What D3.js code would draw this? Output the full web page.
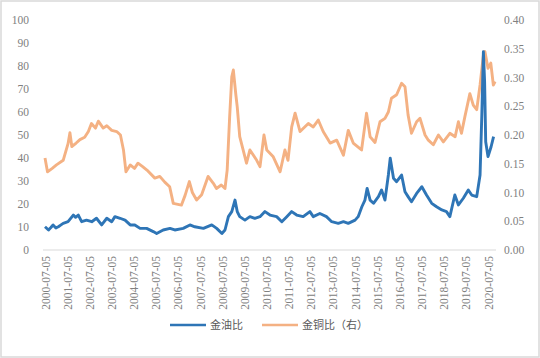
<!DOCTYPE html>
<html>
<head>
<meta charset="utf-8">
<script src="https://cdn.jsdelivr.net/npm/d3@7"></script>
<style>
	body { margin: 0; background: #fff; }
	#graph-container { width: 540px; height: 358px; }
</style>
</head>
<body>
<div id="graph-container"></div>
<script>
// 金油比 (left axis)
const goldOilDates = [
	"2000-07-05", "2000-09-01", "2000-10-10", "2000-11-15", "2001-01-01", "2001-02-10", "2001-03-20",
	"2001-05-01", "2001-07-20", "2001-10-15", "2001-11-20", "2002-01-05", "2002-03-01", "2002-05-20",
	"2002-08-15", "2002-11-01", "2003-01-25", "2003-04-20", "2003-07-10", "2003-09-01", "2003-11-25",
	"2004-02-15", "2004-05-10", "2004-07-25", "2004-10-20", "2005-02-05", "2005-05-25", "2005-07-20",
	"2005-11-05", "2006-02-25", "2006-05-15", "2006-10-01", "2007-01-20", "2007-04-10", "2007-08-30",
	"2008-01-15", "2008-04-05", "2008-06-30", "2008-08-20", "2008-10-15", "2008-12-10", "2009-02-01",
	"2009-03-10", "2009-04-20", "2009-07-15", "2009-10-05", "2009-12-25", "2010-03-20", "2010-06-10",
	"2010-09-01", "2010-12-20", "2011-03-15", "2011-06-05", "2011-08-25", "2011-11-15", "2012-03-01",
	"2012-06-20", "2012-08-15", "2012-12-01", "2013-03-20", "2013-06-15", "2013-10-01", "2013-12-25",
	"2014-03-15", "2014-07-05", "2014-08-25", "2014-10-25", "2014-12-15", "2015-01-20", "2015-03-10",
	"2015-05-05", "2015-07-25", "2015-09-15", "2015-11-10", "2016-01-05", "2016-02-05", "2016-03-30",
	"2016-05-20", "2016-08-10", "2016-10-05", "2016-11-25", "2017-01-20", "2017-04-15", "2017-07-10",
	"2017-09-25", "2017-12-20", "2018-03-10", "2018-06-05", "2018-08-20", "2018-10-15", "2019-01-05",
	"2019-03-05", "2019-05-25", "2019-08-15", "2019-10-10", "2020-01-01", "2020-02-25", "2020-03-25",
	"2020-04-20", "2020-05-10", "2020-05-28", "2020-07-05", "2020-08-25", "2020-10-05"
];
const goldOilValues = [
	10.1, 8.7, 9.8, 10.9, 9.6, 10.1, 10.8,
	11.6, 12.3, 15.2, 14.2, 15.2, 12.3, 13.0,
	12.3, 13.8, 10.9, 13.8, 12.3, 14.5, 13.8,
	13.0, 10.9, 10.9, 9.4, 9.4, 8.0, 7.2,
	8.7, 9.4, 8.7, 9.4, 10.9, 10.1, 9.4,
	10.9, 9.4, 7.2, 8.7, 14.5, 16.7, 21.7,
	16.7, 14.5, 13.0, 14.5, 13.8, 14.5, 16.7,
	15.2, 14.5, 12.3, 14.5, 16.7, 15.2, 14.5,
	16.7, 14.5, 15.9, 14.5, 12.3, 11.6, 12.3,
	11.6, 13.0, 14.5, 18.8, 21.7, 26.8, 21.7,
	20.3, 23.2, 26.1, 21.7, 32.6, 39.9, 31.2,
	29.7, 32.6, 25.3, 23.2, 21.0, 24.6, 27.5,
	23.9, 20.3, 18.8, 17.4, 16.7, 14.5, 23.9,
	19.6, 22.5, 26.1, 23.9, 23.2, 32.6, 58.7,
	86.2, 73.2, 47.1, 40.6, 44.9, 49.3
];

// 金铜比 (right axis)
const goldCopperDates = [
	"2000-07-05", "2000-08-15", "2000-11-01", "2001-01-10", "2001-05-01", "2001-07-20", "2001-08-20",
	"2001-09-20", "2001-12-01", "2002-02-01", "2002-04-20", "2002-06-20", "2002-08-10", "2002-10-15",
	"2002-12-01", "2003-02-20", "2003-04-20", "2003-07-10", "2003-10-01", "2003-12-01", "2004-01-20",
	"2004-03-01", "2004-05-10", "2004-07-20", "2004-09-15", "2004-12-01", "2005-02-10", "2005-06-20",
	"2005-09-10", "2005-12-01", "2006-02-20", "2006-04-20", "2006-09-01", "2006-11-01", "2007-01-10",
	"2007-03-01", "2007-05-10", "2007-08-01", "2007-11-15", "2008-02-10", "2008-04-01", "2008-06-20",
	"2008-08-20", "2008-09-25", "2008-11-05", "2008-12-10", "2009-01-05", "2009-02-15", "2009-03-10",
	"2009-04-20", "2009-08-10", "2009-10-05", "2010-01-25", "2010-03-20", "2010-05-25", "2010-07-10",
	"2010-10-25", "2011-02-15", "2011-05-05", "2011-06-25", "2011-08-25", "2011-10-20", "2012-01-10",
	"2012-05-25", "2012-08-15", "2012-11-05", "2013-01-25", "2013-05-20", "2013-09-05", "2013-12-25",
	"2014-03-15", "2014-06-05", "2014-10-20", "2015-01-10", "2015-03-10", "2015-05-30", "2015-08-20",
	"2015-11-10", "2016-01-05", "2016-02-25", "2016-05-20", "2016-08-10", "2016-10-05", "2016-11-25",
	"2017-01-20", "2017-04-15", "2017-06-10", "2017-09-01", "2017-10-25", "2018-01-15", "2018-04-10",
	"2018-06-30", "2018-10-15", "2019-01-10", "2019-03-05", "2019-04-25", "2019-06-20", "2019-09-10",
	"2019-11-05", "2020-01-01", "2020-02-25", "2020-04-20", "2020-05-15", "2020-07-05", "2020-08-20",
	"2020-10-01", "2020-10-30"
];
const goldCopperValues = [
	0.160, 0.136, 0.142, 0.148, 0.156, 0.185, 0.204,
	0.180, 0.186, 0.192, 0.196, 0.206, 0.220, 0.212,
	0.224, 0.212, 0.216, 0.208, 0.206, 0.200, 0.174,
	0.136, 0.148, 0.142, 0.151, 0.145, 0.139, 0.125,
	0.128, 0.118, 0.110, 0.081, 0.078, 0.095, 0.119,
	0.100, 0.087, 0.096, 0.128, 0.116, 0.107, 0.113,
	0.107, 0.139, 0.232, 0.301, 0.313, 0.270, 0.249,
	0.197, 0.151, 0.174, 0.156, 0.145, 0.200, 0.174,
	0.162, 0.136, 0.174, 0.156, 0.214, 0.238, 0.206,
	0.220, 0.214, 0.226, 0.206, 0.186, 0.191, 0.165,
	0.208, 0.186, 0.174, 0.238, 0.197, 0.187, 0.223,
	0.229, 0.240, 0.264, 0.270, 0.290, 0.284, 0.235,
	0.203, 0.223, 0.229, 0.200, 0.191, 0.183, 0.200,
	0.188, 0.203, 0.197, 0.223, 0.203, 0.232, 0.272,
	0.252, 0.244, 0.287, 0.339, 0.345, 0.316, 0.325,
	0.287, 0.293
];

const xTickLabels = [
	"2000-07-05", "2001-07-05", "2002-07-05", "2003-07-05", "2004-07-05", "2005-07-05", "2006-07-05",
	"2007-07-05", "2008-07-05", "2009-07-05", "2010-07-05", "2011-07-05", "2012-07-05", "2013-07-05",
	"2014-07-05", "2015-07-05", "2016-07-05", "2017-07-05", "2018-07-05", "2019-07-05", "2020-07-05"
];
const leftTicks = [0, 10, 20, 30, 40, 50, 60, 70, 80, 90, 100];
const rightTicks = [0, 0.05, 0.10, 0.15, 0.20, 0.25, 0.30, 0.35, 0.40];
const legendLabels = ["金油比", "金铜比（右）"];

document.addEventListener("DOMContentLoaded", function () {
	builder();
});

function builder() {
	const w = 540;
	const h = 358;
	const parse = d3.timeParse("%Y-%m-%d");
	const blue = "#2e75b6";
	const orange = "#f4b183";
	const numFont = "'Liberation Serif', 'Times New Roman', serif";

	const svg = d3
		.select("#graph-container")
		.append("svg")
		.attr("width", w)
		.attr("height", h);

	// outer frame
	svg.append("rect")
		.attr("x", 1).attr("y", 1)
		.attr("width", w - 2).attr("height", h - 2)
		.attr("fill", "#fff")
		.attr("stroke", "#d9d9d9")
		.attr("stroke-width", 1.5);

	const x = d3.scaleTime()
		.domain([parse(xTickLabels[0]), parse(xTickLabels[xTickLabels.length - 1])])
		.range([45, 488]);
	const yL = d3.scaleLinear().domain([0, 100]).range([250, 20]);
	const yR = d3.scaleLinear().domain([0, 0.4]).range([250, 20]);

	// x axis baseline
	svg.append("line")
		.attr("x1", 43).attr("x2", 496)
		.attr("y1", yL(0)).attr("y2", yL(0))
		.attr("stroke", "#d9d9d9")
		.attr("stroke-width", 1.2);

	// left axis
	const gl = svg.append("g")
		.attr("transform", "translate(33,0)")
		.call(d3.axisLeft(yL).tickValues(leftTicks).tickSize(0).tickPadding(4));
	gl.select(".domain").remove();

	// right axis
	const gr = svg.append("g")
		.attr("transform", "translate(500,0)")
		.call(d3.axisRight(yR).tickValues(rightTicks).tickSize(0).tickPadding(4)
			.tickFormat(d3.format(".2f")));
	gr.select(".domain").remove();

	// bottom axis, rotated labels
	const gb = svg.append("g")
		.attr("transform", `translate(0,${yL(0)})`)
		.call(d3.axisBottom(x).tickValues(xTickLabels.map(parse)).tickSize(0)
			.tickFormat(d3.timeFormat("%Y-%m-%d")));
	gb.select(".domain").remove();
	gb.selectAll("text")
		.attr("transform", "rotate(-90)")
		.attr("text-anchor", "end")
		.attr("dy", "0.35em")
		.attr("x", -6)
		.attr("y", 0);

	svg.selectAll(".tick text")
		.attr("font-family", numFont)
		.attr("font-size", 11.5)
		.attr("fill", "#808080");

	// lines
	const copperData = goldCopperDates.map((d, i) => [parse(d), goldCopperValues[i]]);
	const oilData = goldOilDates.map((d, i) => [parse(d), goldOilValues[i]]);

	svg.append("path")
		.datum(copperData)
		.attr("fill", "none")
		.attr("stroke", orange)
		.attr("stroke-width", 2.9)
		.attr("stroke-linejoin", "round")
		.attr("d", d3.line().x(d => x(d[0])).y(d => yR(d[1])));

	svg.append("path")
		.datum(oilData)
		.attr("fill", "none")
		.attr("stroke", blue)
		.attr("stroke-width", 2.9)
		.attr("stroke-linejoin", "round")
		.attr("d", d3.line().x(d => x(d[0])).y(d => yL(d[1])));

	// legend
	const legend = [
		{ label: legendLabels[0], color: blue, x: 170 },
		{ label: legendLabels[1], color: orange, x: 262 }
	];
	const lg = svg.append("g").attr("transform", "translate(0,325)");
	legend.forEach(function (d) {
		lg.append("line")
			.attr("x1", d.x).attr("x2", d.x + 36)
			.attr("y1", 0).attr("y2", 0)
			.attr("stroke", d.color)
			.attr("stroke-width", 2.6);
		lg.append("text")
			.attr("x", d.x + 40)
			.attr("y", 0)
			.attr("dy", "0.35em")
			.attr("font-family", "'Noto Sans CJK SC', sans-serif")
			.attr("font-size", 11)
			.attr("fill", "#595959")
			.text(d.label);
	});
}
</script>
</body>
</html>
